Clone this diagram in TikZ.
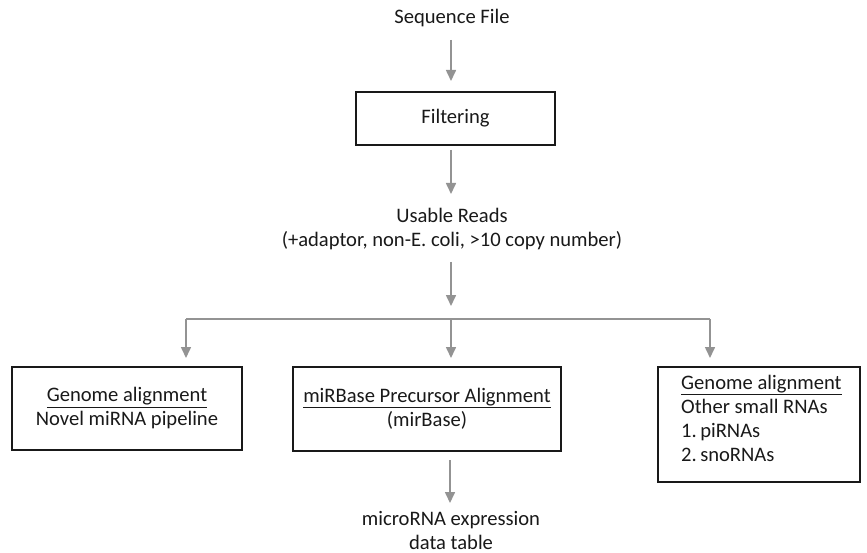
\documentclass[tikz,border=0pt]{standalone}
\usepackage{fontspec}
\setmainfont{Carlito}
\usetikzlibrary{arrows.meta}
\begin{document}
\begin{tikzpicture}[x=1pt,y=-1pt,
  txt/.style={font=\fontsize{20.6}{24}\selectfont, align=center, inner sep=0pt, text=black!90},
  box/.style={draw=black!90, line width=2.6pt, inner sep=0pt},
  arr/.style={draw=gray!85, line width=1.6pt, -{Triangle[length=11pt,width=10pt]}},
  ln/.style={draw=gray!85, line width=1.6pt}]
\useasboundingbox (0,0) rectangle (867,553);
\node[txt] (seq) at (452,18) {Sequence File};
\node[box, minimum width=199pt, minimum height=53pt] (filt) at (455.5,118.5) {};
\node[txt] at (filt.center) {Filtering};
\node[txt] (usable) at (452,229) {Usable Reads\\(+adaptor, non-E. coli, >10 copy number)};
\coordinate (top1) at (451,40);
\coordinate (bot1) at (451,81);
\draw[arr] (top1) -- (bot1);
\coordinate (top2) at (451,150);
\coordinate (bot2) at (451,194);
\draw[arr] (top2) -- (bot2);
\coordinate (top3) at (451,262);
\coordinate (bot3) at (451,306);
\draw[arr] (top3) -- (bot3);
\coordinate (hl) at (186,319);
\coordinate (hr) at (710,319);
\coordinate (hm) at (451,319);
\draw[ln] (hl) -- (hr);
\coordinate (d1) at (186,358);
\coordinate (d2) at (451,358);
\coordinate (d3) at (710,358);
\draw[arr] (hl) -- (d1);
\draw[arr] (hm) -- (d2);
\draw[arr] (hr) -- (d3);
% boxes
\node[box, minimum width=230pt, minimum height=83pt] (left) at (127,408.5) {};
\node[txt] at (left.center) {\underline{Genome alignment}\\Novel miRNA pipeline};
\node[box, minimum width=268pt, minimum height=84pt] (mid) at (427,409) {};
\node[txt] at (mid.center) {\underline{miRBase Precursor Alignment}\\(mirBase)};
\node[box, minimum width=202pt, minimum height=115pt] (right) at (759,424.5) {};
\node[txt, align=left, anchor=north west] at (681,375) {\underline{Genome alignment}\\Other small RNAs\\1.\,piRNAs\\2.\,snoRNAs};
\coordinate (top4) at (450,460);
\coordinate (bot4) at (450,503);
\draw[arr] (top4) -- (bot4);
\node[txt] (expr) at (451,530) {microRNA expression\\data table};
\end{tikzpicture}
\end{document}
